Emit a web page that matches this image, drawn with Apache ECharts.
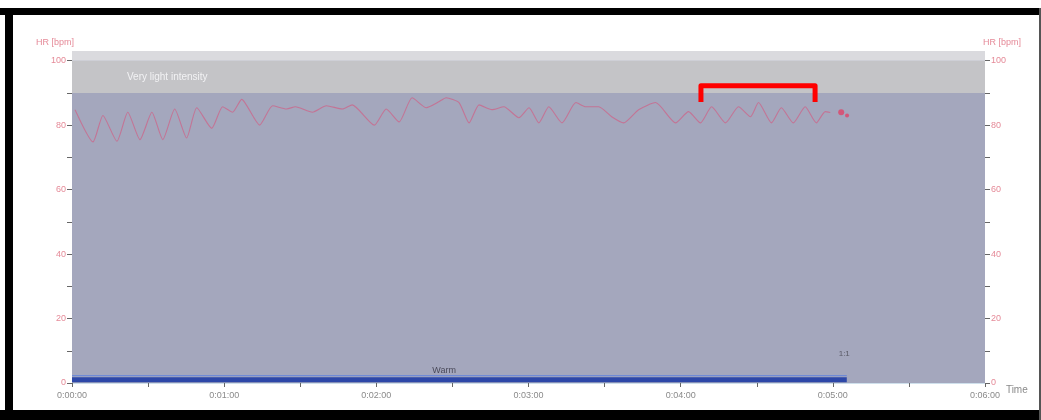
<!DOCTYPE html>
<html>
<head>
<meta charset="utf-8">
<title>HR [bpm]</title>
<script src="https://cdn.jsdelivr.net/npm/echarts@6/dist/echarts.min.js"></script>
<style>
  html, body { margin: 0; padding: 0; background: #ffffff; }
  #chart { width: 1041px; height: 420px; }
</style>
</head>
<body>
<div id="chart"></div>
<script>
// Heart rate samples: elapsed seconds and bpm
const hrTimes = [1.2, 8.3, 12.2, 17.7, 22.0, 26.8, 31.5, 35.8, 40.5, 45.2, 49.2, 55.1, 59.4, 63.3, 66.9,
  74.0, 79.1, 84.6, 88.1, 94.8, 100.3, 106.6, 110.5, 119.2, 123.9, 129.0, 134.1, 139.7, 144.8, 147.5,
  152.6, 156.6, 160.5, 165.6, 170.3, 176.2, 180.2, 184.1, 188.0, 193.2, 198.7, 202.6, 207.7, 212.8,
  217.5, 223.4, 230.1, 238.0, 243.1, 247.8, 252.2, 257.7, 262.8, 267.5, 270.7, 275.8, 279.7, 284.4,
  289.1, 293.5, 297.0, 299.0];
const hrValues = [84.8, 74.8, 83.0, 75.0, 84.0, 75.5, 84.0, 75.5, 85.0, 76.0, 85.4, 79.0, 85.7, 84.0, 88.0,
  80.0, 86.0, 85.0, 85.7, 84.0, 86.0, 85.0, 86.3, 80.0, 85.0, 81.0, 88.5, 85.4, 87.3, 88.5,
  87.0, 80.7, 86.3, 84.8, 85.7, 82.3, 85.4, 80.7, 85.7, 80.7, 87.0, 85.7, 85.7, 82.6,
  80.7, 84.8, 87.0, 80.7, 84.2, 80.7, 85.7, 80.7, 85.7, 82.6, 87.0, 80.7, 85.4, 80.7,
  85.7, 80.7, 84.2, 83.9];

// Training phase shown along the bottom of the chart
const phaseNames = ['Warm'];
const phaseStart = [0];
const phaseEnd = [305.5];

// Intensity zones (bpm)
const zoneLow = 90;
const zoneHigh = 100;
const zoneName = 'Very light intensity';

// Highlighted stretch of the recording
const bracketTimes = [248, 248, 293, 293];
const bracketValues = [87.2, 92.2, 92.2, 87.2];

// End-of-recording marker
const endTimes = [303.3, 305.6];
const endValues = [84.0, 83.0];

// Axis ticks
const timeLabels = ['0:00:00', '0:01:00', '0:02:00', '0:03:00', '0:04:00', '0:05:00', '0:06:00'];
const hrTickLabels = [0, 20, 40, 60, 80, 100];
const hrMinorTicks = [0, 10, 20, 30, 40, 50, 60, 70, 80, 90, 100];

const hrData = hrTimes.map((t, i) => [t, hrValues[i]]);
const bracketData = bracketTimes.map((t, i) => [t, bracketValues[i]]);
const endData = endTimes.map((t, i) => [t, endValues[i]]);

const FONT = 'Liberation Sans';
const labelRed = '#e58a98';

function hrAxis(pos) {
  return {
    type: 'value',
    position: pos,
    min: 0,
    max: 103,
    name: 'HR [bpm]',
    nameLocation: 'end',
    nameGap: 4,
    nameTextStyle: {
      color: labelRed, fontFamily: FONT, fontSize: 9,
      align: pos === 'left' ? 'right' : 'left',
      padding: pos === 'left' ? [0, -2, 0, 0] : [0, 0, 0, -2]
    },
    axisLine: { show: false },
    axisTick: { show: true, customValues: hrMinorTicks, length: 5, lineStyle: { color: '#666', width: 1 } },
    axisLabel: { customValues: hrTickLabels, color: labelRed, fontFamily: FONT, fontSize: 9, margin: 6 },
    splitLine: { show: false }
  };
}

const chart = echarts.init(document.getElementById('chart'), null, { renderer: 'canvas' });

chart.setOption({
  animation: false,
  backgroundColor: '#ffffff',
  grid: {
    left: 72, right: 56, top: 51, bottom: 37,
    show: true, backgroundColor: '#a4a7bd', borderWidth: 0
  },
  xAxis: {
    type: 'value',
    min: 0,
    max: 360,
    interval: 60,
    name: 'Time',
    nameLocation: 'end',
    nameGap: 10,
    nameTextStyle: { color: '#8a8a8a', fontFamily: FONT, fontSize: 10, verticalAlign: 'top', padding: [2, 0, 0, 0] },
    axisLine: { show: true, lineStyle: { color: '#cfe0ec', width: 1 } },
    axisTick: { show: true, length: 4, lineStyle: { color: '#666' } },
    minorTick: { show: true, splitNumber: 2, length: 4, lineStyle: { color: '#666' } },
    axisLabel: {
      color: '#8a8a8a', fontFamily: FONT, fontSize: 9, margin: 8,
      formatter: v => timeLabels[Math.round(v / 60)] || ''
    },
    splitLine: { show: false }
  },
  yAxis: [hrAxis('left'), hrAxis('right')],
  series: [
    {
      name: 'HR',
      type: 'line',
      data: hrData,
      yAxisIndex: 0,
      smooth: 0.2,
      symbol: 'none',
      lineStyle: { color: '#c96b8e', width: 1.1, opacity: 0.85 },
      z: 4,
      markArea: {
        silent: true,
        data: [
          [
            {
              yAxis: zoneLow,
              itemStyle: { color: '#c4c4c7' },
              label: {
                show: true, position: 'insideLeft', distance: 55,
                formatter: zoneName, color: '#f2f2f4', fontFamily: FONT, fontSize: 10
              }
            },
            { yAxis: zoneHigh }
          ],
          [
            { yAxis: zoneHigh, itemStyle: { color: '#dadade' }, label: { show: false } },
            { yAxis: 103 }
          ]
        ]
      }
    },
    {
      name: 'Phase',
      type: 'line',
      data: phaseStart.map((s, i) => [s, 1]).concat(phaseEnd.map(e => [e, 1])),
      symbol: 'none',
      lineStyle: { color: '#2d47a8', width: 5 },
      z: 5,
      markPoint: {
        symbol: 'circle',
        symbolSize: 0,
        data: [
          {
            coord: [(phaseStart[0] + phaseEnd[0]) / 2 - 6, 4],
            label: { show: true, formatter: phaseNames[0], color: '#4a4a5a', fontFamily: FONT, fontSize: 9, position: 'inside' }
          },
          {
            coord: [phaseEnd[0] - 1, 9],
            label: { show: true, formatter: '1:1', color: '#5a5a66', fontFamily: FONT, fontSize: 8, position: 'inside' }
          }
        ]
      }
    },
    {
      name: 'PhaseEdge',
      type: 'line',
      data: phaseStart.map(s => [s, 2.3]).concat(phaseEnd.map(e => [e, 2.3])),
      symbol: 'none',
      lineStyle: { color: '#6f8ad6', width: 1.2 },
      z: 5
    },
    {
      name: 'Bracket',
      type: 'line',
      data: bracketData,
      symbol: 'none',
      lineStyle: { color: '#ff0000', width: 5, join: 'round', cap: 'butt' },
      z: 8
    },
    {
      name: 'End',
      type: 'scatter',
      data: endData,
      symbol: 'circle',
      symbolSize: (v, p) => (p.dataIndex === 0 ? 6 : 4),
      itemStyle: { color: '#de4468' },
      z: 6
    }
  ],
  graphic: [
    { type: 'rect', shape: { x: 0, y: 8, width: 1041, height: 7 }, style: { fill: '#000' }, z: 100 },
    { type: 'rect', shape: { x: 5, y: 8, width: 8, height: 412 }, style: { fill: '#000' }, z: 100 },
    { type: 'rect', shape: { x: 0, y: 410, width: 1041, height: 10 }, style: { fill: '#000' }, z: 100 },
    { type: 'rect', shape: { x: 1039, y: 8, width: 2, height: 412 }, style: { fill: '#555' }, z: 100 }
  ]
});
</script>
</body>
</html>
